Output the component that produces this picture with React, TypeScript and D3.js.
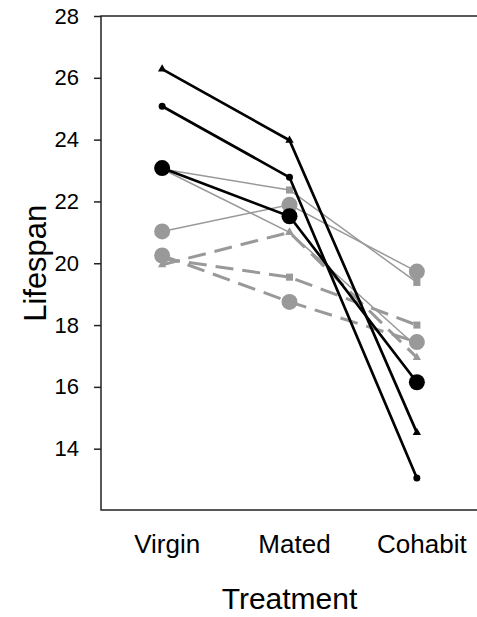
import React, { useEffect, useRef } from 'react'
import * as d3 from 'd3'

const width = 477
const height = 617

const margin = {
    top: 16,
    right: 0,
    bottom: 107,
    left: 101
}

// treatments on the x axis
const treatments = ['Virgin', 'Mated', 'Cohabit']
const yTicks = [14, 16, 18, 20, 22, 24, 26, 28]

// black group
const blackTriangle = [26.28, 23.98, 14.52]
const blackDot = [25.08, 22.78, 13.05]
const blackMean = [23.08, 21.52, 16.15]

// grey solid group
const greySquare = [23.05, 22.37, 19.38]
const greyTriangle = [23.05, 21.0, 17.3]
const greyMean = [21.03, 21.89, 19.73]

// grey dashed group
const dashSquare = [20.15, 19.55, 18.0]
const dashTriangle = [19.95, 21.0, 16.95]
const dashMean = [20.25, 18.75, 17.45]

const grey = '#999999'

const series = [
    { values: dashSquare, color: grey, width: 3, dash: '18,9', marker: 'square' },
    { values: dashTriangle, color: grey, width: 3, dash: '18,9', marker: 'triangle' },
    { values: dashMean, color: grey, width: 3, dash: '18,9', marker: 'big' },
    { values: greySquare, color: grey, width: 1.5, dash: null, marker: 'square' },
    { values: greyTriangle, color: grey, width: 1.5, dash: null, marker: 'triangle' },
    { values: greyMean, color: grey, width: 1.5, dash: null, marker: 'big' },
    { values: blackTriangle, color: '#000', width: 2.7, dash: null, marker: 'triangle' },
    { values: blackDot, color: '#000', width: 2.7, dash: null, marker: 'dot' },
    { values: blackMean, color: '#000', width: 2.7, dash: null, marker: 'big' }
]

export default function App() {
    const node = useRef<SVGSVGElement>(null)

    useEffect(() => {
        const svg = d3.select(node.current)
        svg.selectAll('*').remove()

        const x = d3.scalePoint<string>()
            .domain(treatments)
            .range([margin.left, width + 1])
            .padding(0.48)

        const y = d3.scaleLinear()
            .domain([12, 28])
            .range([height - margin.bottom + 0.5, margin.top])

        const font = 'Liberation Sans, Arial, sans-serif'

        // frame (top, left, bottom)
        svg.append('path')
            .attr('d', `M${width},${y(28)}H${margin.left}V${height - margin.bottom}H${width}`)
            .attr('fill', 'none')
            .attr('stroke', '#222')
            .attr('stroke-width', 1.5)

        const yAxis = svg.append('g')
            .attr('transform', `translate(${margin.left},0)`)
            .call(d3.axisLeft(y).tickValues(yTicks).tickSize(7).tickPadding(15).tickFormat(d3.format('d')))
        yAxis.select('.domain').remove()
        yAxis.selectAll('line').attr('stroke', '#222').attr('stroke-width', 1.5)
        yAxis.selectAll('text')
            .attr('font-family', font)
            .attr('font-size', 22)
            .attr('fill', '#000')

        svg.append('text')
            .attr('transform', `translate(46,${y(20)}) rotate(-90)`)
            .attr('text-anchor', 'middle')
            .attr('font-family', font)
            .attr('font-size', 31)
            .text('Lifespan')

        svg.append('g')
            .selectAll('text')
            .data(treatments)
            .join('text')
            .attr('x', d => x(d)! + 5)
            .attr('y', 553)
            .attr('text-anchor', 'middle')
            .attr('font-family', font)
            .attr('font-size', 26)
            .text(d => d)

        svg.append('text')
            .attr('x', x('Mated')!)
            .attr('y', 609)
            .attr('text-anchor', 'middle')
            .attr('font-family', font)
            .attr('font-size', 30)
            .text('Treatment')

        const line = d3.line<number>()
            .x((d, i) => x(treatments[i])!)
            .y(d => y(d))

        const symbols: Record<string, d3.SymbolType> = {
            square: d3.symbolSquare,
            triangle: d3.symbolTriangle
        }

        series.forEach(s => {
            const g = svg.append('g')
            g.append('path')
                .datum(s.values)
                .attr('d', line)
                .attr('fill', 'none')
                .attr('stroke', s.color)
                .attr('stroke-width', s.width)
                .attr('stroke-dasharray', s.dash)

            if (s.marker === 'big' || s.marker === 'dot') {
                g.selectAll('circle')
                    .data(s.values)
                    .join('circle')
                    .attr('cx', (d, i) => x(treatments[i])!)
                    .attr('cy', d => y(d))
                    .attr('r', s.marker === 'big' ? 8 : 3.5)
                    .attr('fill', s.color)
            } else {
                g.selectAll('path.mark')
                    .data(s.values)
                    .join('path')
                    .attr('class', 'mark')
                    .attr('transform', (d, i) => `translate(${x(treatments[i])},${y(d)})`)
                    .attr('d', d3.symbol(symbols[s.marker], s.marker === 'square' ? 50 : 30)())
                    .attr('fill', s.color)
            }
        })
    }, [])

    return (
        <svg
            ref={node}
            width={width}
            height={height}
            style={{ position: 'absolute', left: 0, top: 0, background: '#fff' }}
        />
    )
}
